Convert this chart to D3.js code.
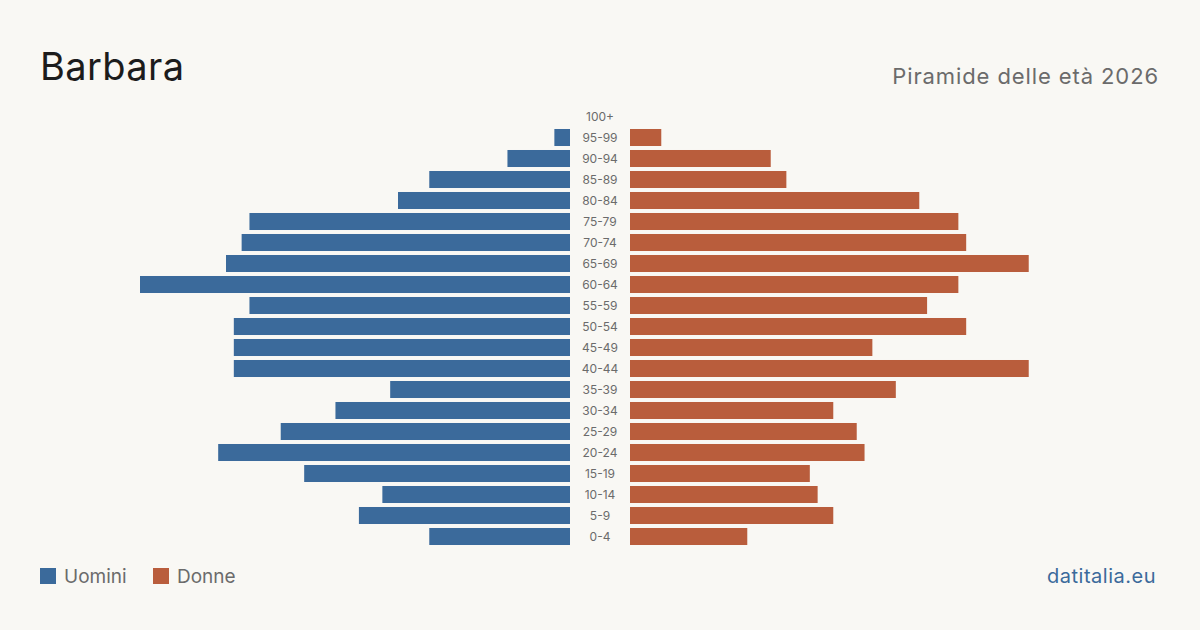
<!DOCTYPE html>
<html>
<head>
<meta charset="utf-8">
<script src="https://cdn.jsdelivr.net/npm/d3@7"></script>
<style>
  body { margin: 0; background: #f9f8f4; }
  svg { display: block; font-family: Inter, "Noto Sans", sans-serif; }
</style>
</head>
<body>
<div id="chart"></div>
<script>
// Age groups, top to bottom
var ageGroups = ['100+', '95-99', '90-94', '85-89', '80-84', '75-79', '70-74', '65-69', '60-64',
  '55-59', '50-54', '45-49', '40-44', '35-39', '30-34', '25-29', '20-24', '15-19', '10-14', '5-9', '0-4'];
var men   = [0, 2, 8, 18, 22, 41, 42, 44, 55, 41, 43, 43, 43, 23, 30, 37, 45, 34, 24, 27, 18];
var women = [0, 4, 18, 20, 37, 42, 43, 51, 42, 38, 43, 31, 51, 34, 26, 29, 30, 23, 24, 26, 15];

var width = 1200, height = 630;
var blue = '#3b6a9b', red = '#b95d3c';

var svg = d3.select('#chart')
  .append('svg')
  .attr('width', width)
  .attr('height', height);

svg.append('rect').attr('width', width).attr('height', height).attr('fill', '#f9f8f4');

// Scales
var y = d3.scaleBand()
  .domain(ageGroups)
  .range([106, 547])
  .paddingInner(0.19)
  .paddingOuter(0.095);

var xLeft = d3.scaleLinear().domain([0, 55]).range([570, 140]);
var xRight = d3.scaleLinear().domain([0, 55]).range([630, 1060]);

var rows = ageGroups.map(function(a, i) { return { age: a, m: men[i], f: women[i] }; });

// Men bars
svg.selectAll('.bar-m')
  .data(rows.filter(function(d) { return d.m > 0; }))
  .enter()
  .append('rect')
  .attr('class', 'bar-m')
  .attr('x', function(d) { return xLeft(d.m); })
  .attr('y', function(d) { return y(d.age); })
  .attr('width', function(d) { return xLeft(0) - xLeft(d.m); })
  .attr('height', y.bandwidth())
  .attr('fill', blue);

// Women bars
svg.selectAll('.bar-f')
  .data(rows.filter(function(d) { return d.f > 0; }))
  .enter()
  .append('rect')
  .attr('class', 'bar-f')
  .attr('x', xRight(0))
  .attr('y', function(d) { return y(d.age); })
  .attr('width', function(d) { return xRight(d.f) - xRight(0); })
  .attr('height', y.bandwidth())
  .attr('fill', red);

// Age labels in the middle
svg.selectAll('.age-label')
  .data(ageGroups)
  .enter()
  .append('text')
  .attr('class', 'age-label')
  .attr('x', 600)
  .attr('y', function(d) { return y(d) + y.bandwidth() / 2; })
  .attr('dy', '0.35em')
  .attr('text-anchor', 'middle')
  .style('font-size', '12px')
  .style('fill', '#6b6b6b')
  .text(function(d) { return d; });

// Title and subtitle
svg.append('text')
  .attr('x', 40)
  .attr('y', 80)
  .style('font-size', '38px')
  .style('letter-spacing', '0.4px')
  .style('fill', '#1c1c1c')
  .text('Barbara');

svg.append('text')
  .attr('x', 1159)
  .attr('y', 84)
  .attr('text-anchor', 'end')
  .style('font-size', '22px')
  .style('letter-spacing', '0.9px')
  .style('fill', '#6b6b6b')
  .text('Piramide delle età 2026');

// Legend
var legend = [{ label: 'Uomini', color: blue, x: 40 }, { label: 'Donne', color: red, x: 153 }];
var lg = svg.selectAll('.legend')
  .data(legend)
  .enter()
  .append('g')
  .attr('class', 'legend')
  .attr('transform', function(d) { return 'translate(' + d.x + ',568)'; });
lg.append('rect').attr('width', 16).attr('height', 16).attr('fill', function(d) { return d.color; });
lg.append('text')
  .attr('x', 24)
  .attr('y', 8)
  .attr('dy', '0.35em')
  .style('font-size', '19px')
  .style('fill', '#6b6b6b')
  .text(function(d) { return d.label; });

// Source
svg.append('text')
  .attr('x', 1156)
  .attr('y', 583)
  .attr('text-anchor', 'end')
  .style('font-size', '20px')
  .style('letter-spacing', '0.5px')
  .style('fill', blue)
  .text('datitalia.eu');
</script>
</body>
</html>
